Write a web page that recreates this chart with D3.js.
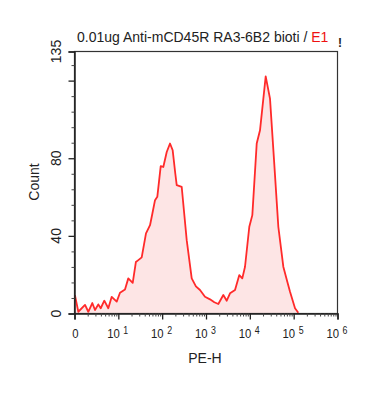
<!DOCTYPE html>
<html><head><meta charset="utf-8">
<script src="https://cdn.jsdelivr.net/npm/d3@7"></script>
<style>body{margin:0;background:#fff;}svg{display:block;font-family:"Liberation Sans",Arial,sans-serif;}</style>
</head><body>
<svg id="c" width="391" height="406"></svg>
<script>
// histogram: x in decades (0 = "0", 1 = 10^1 ... 6 = 10^6), counts
const decades = [0.01,0.087,0.24,0.315,0.406,0.468,0.543,0.598,0.680,0.771,0.849,0.963,1.038,1.152,1.227,1.328,1.40,1.456,1.533,1.631,1.723,1.777,1.837,1.889,1.967,2.026,2.104,2.179,2.240,2.300,2.332,2.446,2.560,2.674,2.770,2.863,2.977,3.091,3.190,3.281,3.395,3.473,3.548,3.662,3.760,3.828,3.890,3.988,4.057,4.157,4.232,4.362,4.460,4.552,4.650,4.764,4.855,4.917,5.031,5.106];
const counts  = [9.5,0.9,4.4,0.9,5.4,1.8,4.7,2.7,6.6,2.7,8.6,6.1,10.7,12.4,18.1,15.8,26.5,27.5,28.9,41.3,45.5,51.5,58.4,60.1,75.9,75.5,83.2,87.6,84.1,72,66.1,65.2,37.8,18.1,14.0,12.1,8.6,7.3,5.8,4.9,9.5,6.6,10.4,12.1,19.8,18.1,24.1,44.7,50.7,87.6,94.4,122.2,110.7,79.0,44.7,24.1,16.4,11.2,2.7,0.4];
const xTickBases = ["0","10","10","10","10","10","10"];
const xTickExps  = ["","1","2","3","4","5","6"];
const yTickValues = [0,40,80,135];
const yMinorValues = [8,16,24,32,48,56,64,72,88,96,104,112,120,128];
const titleMain = "0.01ug Anti-mCD45R RA3-6B2 bioti / ";
const titleSample = "E1";

const svg = d3.select("#c");
const L=74.5, R=337.5, T=51.5, B=313.5;
const x = d3.scaleLinear().domain([0,6]).range([L,R]);
const y = d3.scaleLinear().domain([0,135]).range([B,T]);
const data = decades.map((d,i)=>({x:d,y:counts[i]}));

// area + line
svg.append("path").datum(data)
  .attr("d", d3.area().x(d=>x(d.x)).y0(y(0)).y1(d=>y(d.y)))
  .attr("fill","#fde5e5");
svg.append("path").datum(data)
  .attr("d", d3.line().x(d=>x(d.x)).y(d=>y(d.y)))
  .attr("fill","none").attr("stroke","#ff2a2a").attr("stroke-width",1.8).attr("stroke-linejoin","round");

// frame
svg.append("rect").attr("x",L).attr("y",T).attr("width",R-L).attr("height",B-T)
  .attr("fill","none").attr("stroke","#333").attr("stroke-width",1.2);

// y axis
const gy = svg.append("g").attr("transform",`translate(${L},0)`)
  .call(d3.axisLeft(y).tickValues(yTickValues).tickSize(6).tickFormat(""));
gy.select(".domain").attr("stroke","#222").attr("stroke-width",1.5);
gy.selectAll(".tick line").attr("stroke","#222").attr("stroke-width",1.3);
const gy2 = svg.append("g").attr("transform",`translate(${L},0)`)
  .call(d3.axisLeft(y).tickValues(yMinorValues).tickSize(3).tickFormat(""));
gy2.select(".domain").remove();
gy2.selectAll(".tick line").attr("stroke","#444").attr("stroke-width",1);
gy2.selectAll(".tick").filter(d=>d===120).select("line").attr("x2",-6).attr("stroke","#222").attr("stroke-width",1.3);
yTickValues.forEach(v=>{
  svg.append("text").attr("transform",`translate(${L-14},${y(v)}) rotate(-90)`)
    .attr("text-anchor","middle").attr("font-size",14).attr("fill","#222").text(v);
});
svg.append("text").attr("transform",`translate(38.5,182) rotate(-90)`)
  .attr("text-anchor","middle").attr("font-size",14).attr("fill","#222").text("Count");

// x axis
const gx = svg.append("g").attr("transform",`translate(0,${B})`)
  .call(d3.axisBottom(x).tickValues(d3.range(0,7)).tickSize(6).tickFormat(""));
gx.select(".domain").attr("stroke","#222").attr("stroke-width",1.5);
gx.selectAll(".tick line").attr("stroke","#222").attr("stroke-width",1.3);
const minorX = [];
for(let d=0; d<6; d++) for(let k=2;k<10;k++) minorX.push(d+Math.log10(k));
const gx2 = svg.append("g").attr("transform",`translate(0,${B})`)
  .call(d3.axisBottom(x).tickValues(minorX).tickSize(3).tickFormat(""));
gx2.select(".domain").remove();
gx2.selectAll(".tick line").attr("stroke","#444").attr("stroke-width",1);
const sx = 0.84;
xTickBases.forEach((base,i)=>{
  const g = svg.append("g").attr("transform",`translate(${x(i)},338) scale(${sx},1)`);
  if(!xTickExps[i]){
    g.append("text").attr("x",1/sx).attr("text-anchor","middle").attr("font-size",13.5).attr("fill","#222").text(base);
  } else {
    g.append("text").attr("x",1.5/sx).attr("text-anchor","end").attr("font-size",13.5).attr("fill","#222").text(base);
    g.append("text").attr("x",5/sx).attr("y",-4).attr("text-anchor","start").attr("font-size",10.5).attr("fill","#222").text(xTickExps[i]);
  }
});
svg.append("text").attr("x",205).attr("y",363).attr("text-anchor","middle")
  .attr("font-size",14).attr("fill","#222").text("PE-H");

// title
const tt = svg.append("text").attr("x",77).attr("y",41.5).attr("font-size",14).attr("fill","#222");
tt.append("tspan").text(titleMain);
tt.append("tspan").attr("fill","#ee1111").text(titleSample);
svg.append("text").attr("x",340).attr("y",47).attr("text-anchor","middle").attr("font-size",12)
  .attr("font-weight","bold").attr("fill","#222").text("!");
</script>
</body></html>
